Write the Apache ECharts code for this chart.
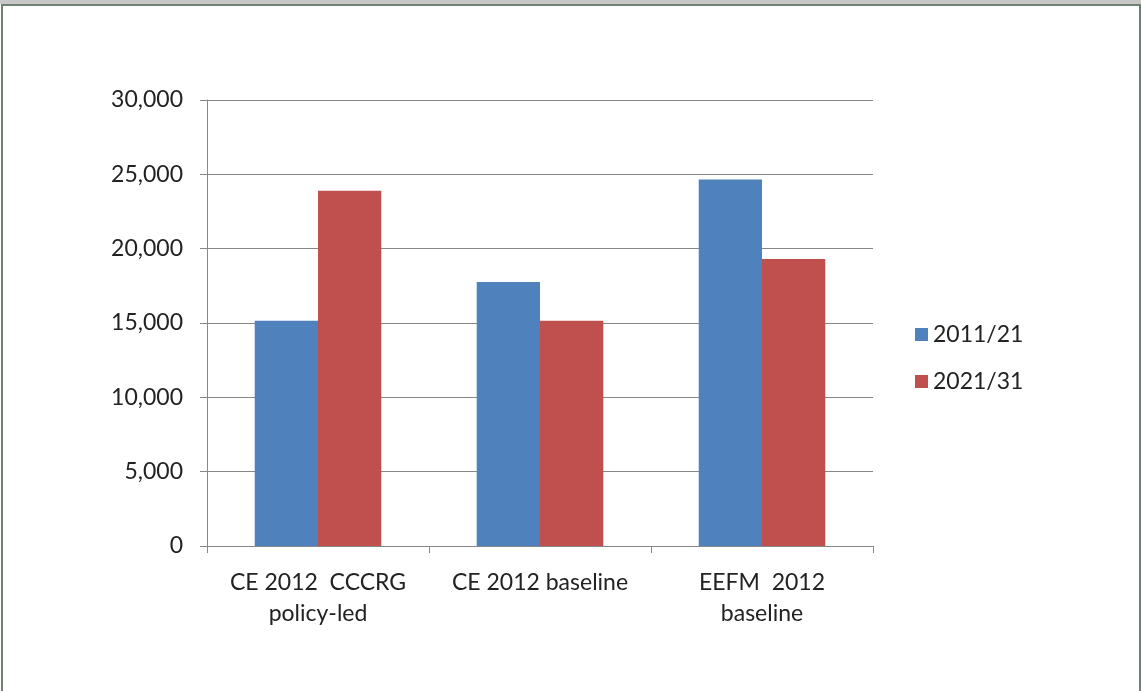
<!DOCTYPE html>
<html>
<head>
<meta charset="utf-8">
<script src="https://cdn.jsdelivr.net/npm/echarts@6/dist/echarts.min.js"></script>
<style>
  html, body { margin: 0; padding: 0; background: #fff; }
  #strip { position: absolute; left: 0; top: 0; width: 1141px; height: 4px; background: #c8c8c8; }
  #frame { position: absolute; left: 1px; top: 4px; width: 1136px; height: 687px; border: 2px solid #6f8173; border-bottom: none; }
  #chart { position: absolute; left: 0; top: 0; width: 1141px; height: 691px; }
</style>
</head>
<body>
<div id="strip"></div>
<div id="frame"></div>
<div id="chart"></div>
<script>
const categories = ["CE 2012  CCCRG\npolicy-led", "CE 2012 baseline", "EEFM  2012\nbaseline"];
const seriesNames = ["2011/21", "2021/31"];
const values2011_21 = [15150, 17750, 24650];
const values2021_31 = [23900, 15150, 19300];
const yTicks = { min: 0, max: 30000, interval: 5000 };

const chart = echarts.init(document.getElementById('chart'), null, { renderer: 'canvas' });
const font = 'Lato, "Open Sans", sans-serif';
chart.setOption({
  backgroundColor: 'transparent',
  animation: false,
  grid: { left: 207, right: 268, top: 100, bottom: 145, containLabel: false },
  legend: {
    orient: 'vertical',
    left: 910,
    top: 318,
    itemWidth: 13,
    itemHeight: 13,
    itemGap: 24,
    icon: 'rect',
    textStyle: { fontFamily: font, fontSize: 23, color: '#222' },
    data: seriesNames
  },
  xAxis: {
    type: 'category',
    data: categories,
    axisLine: { lineStyle: { color: '#878787', width: 1 } },
    axisTick: { show: true, length: 7, lineStyle: { color: '#878787' } },
    axisLabel: { fontFamily: font, fontSize: 23, color: '#222', lineHeight: 31, margin: 21, interval: 0 }
  },
  yAxis: {
    type: 'value',
    min: yTicks.min, max: yTicks.max, interval: yTicks.interval,
    axisLine: { show: true, lineStyle: { color: '#878787', width: 1 } },
    axisTick: { show: true, inside: false, length: 7, lineStyle: { color: '#878787' } },
    splitLine: { show: true, lineStyle: { color: '#878787', width: 1 } },
    axisLabel: {
      fontFamily: font, fontSize: 23, color: '#222', margin: 24,
      formatter: v => v.toLocaleString('en-US')
    }
  },
  series: [
    { name: seriesNames[0], type: 'bar', data: values2011_21, barGap: '0%', barCategoryGap: '43%', itemStyle: { color: '#4F81BD' } },
    { name: seriesNames[1], type: 'bar', data: values2021_31, barGap: '0%', barCategoryGap: '43%', itemStyle: { color: '#C0504D' } }
  ]
});
</script>
</body>
</html>
